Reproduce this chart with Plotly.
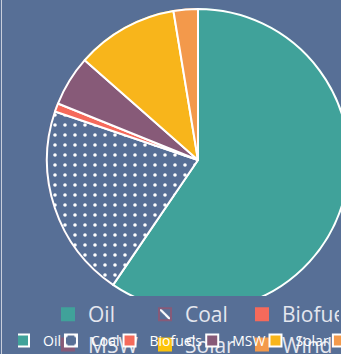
import plotly.graph_objects as go

# Energy sources and their share of the mix (%)
sources = ["Oil", "Coal", "Biofuels", "MSW", "Solar", "Wind"]
shares = [59.5, 20.7, 0.9, 5.4, 10.9, 2.6]

BG = "#576f96"
slice_colors = ["#40a29a", BG, "#f56a5b", "#875a78", "#f8b51b", "#f3994b"]
key_colors = ["#40a29a", "#875a78", "#f56a5b", "#875a78", "#fcc30a", "#f3994b"]

# canvas and plot-area geometry (px)
W, H = 400, 380
ML, MB = 30, 55
GW, GH = W - ML, H - MB


def px_x(x):
    return (x - ML) / GW


def px_y(y):
    return (GH - y) / GH


# pie placement in pixels: left, right, top, bottom
PX_L, PX_R, PX_T, PX_B = 47, 349, 9, 311
dom = dict(x=[px_x(PX_L), px_x(PX_R)], y=[px_y(PX_B), px_y(PX_T)])

fig = go.Figure()

# underlying pie that feeds the large key
fig.add_trace(go.Pie(
    labels=sources, values=shares, sort=False, direction="clockwise", rotation=0,
    domain=dom, textinfo="none", hoverinfo="label+percent",
    marker=dict(colors=key_colors,
                line=dict(color=key_colors, width=2),
                pattern=dict(shape=["", "\\", "", "", "", ""], fgcolor="white",
                             size=9, solidity=0.25)),
    legend="legend", legendgroup="big",
))

# visible pie with white separators and a dotted Coal slice
fig.add_trace(go.Pie(
    labels=sources, values=shares, sort=False, direction="clockwise", rotation=0,
    domain=dom, textinfo="none", hoverinfo="label+percent",
    marker=dict(colors=slice_colors,
                line=dict(color="white", width=2),
                pattern=dict(shape=["", ".", "", "", "", ""], fgcolor="white",
                             bgcolor=slice_colors, size=10, solidity=0.1)),
    legend="legend2", legendgroup="small",
))

fig.update_layout(
    width=W, height=H,
    margin=dict(l=ML, r=0, t=0, b=MB, autoexpand=False),
    paper_bgcolor=BG, plot_bgcolor=BG,
    font=dict(family="Open Sans", color="#e4e6ee"),
    legend=dict(orientation="h", traceorder="normal",
                x=px_x(48), y=px_y(294), xanchor="left", yanchor="top",
                font=dict(size=21, color="#e4e6ee"), bgcolor="rgba(0,0,0,0)",
                entrywidth=52, entrywidthmode="pixels"),
    legend2=dict(orientation="h", traceorder="normal", indentation=-15,
                 x=px_x(18), y=0, xanchor="left", yanchor="top",
                 font=dict(size=14, color="white"), bgcolor="rgba(0,0,0,0)"),
    shapes=[
        # band under the pie that holds the keys
        dict(type="rect", xref="paper", yref="paper", x0=-1, x1=2, y0=-1, y1=px_y(296),
             fillcolor=BG, line=dict(width=0), layer="above"),
        # thin frame edge on the left
        dict(type="line", xref="paper", yref="paper", x0=px_x(1.5), x1=px_x(1.5), y0=-1, y1=2,
             line=dict(color="#c9cedb", width=1), layer="above"),
    ],
)

fig.write_html(
    "out.html",
    post_script="document.documentElement.style.overflow='hidden';document.body.style.overflow='hidden';",
)
